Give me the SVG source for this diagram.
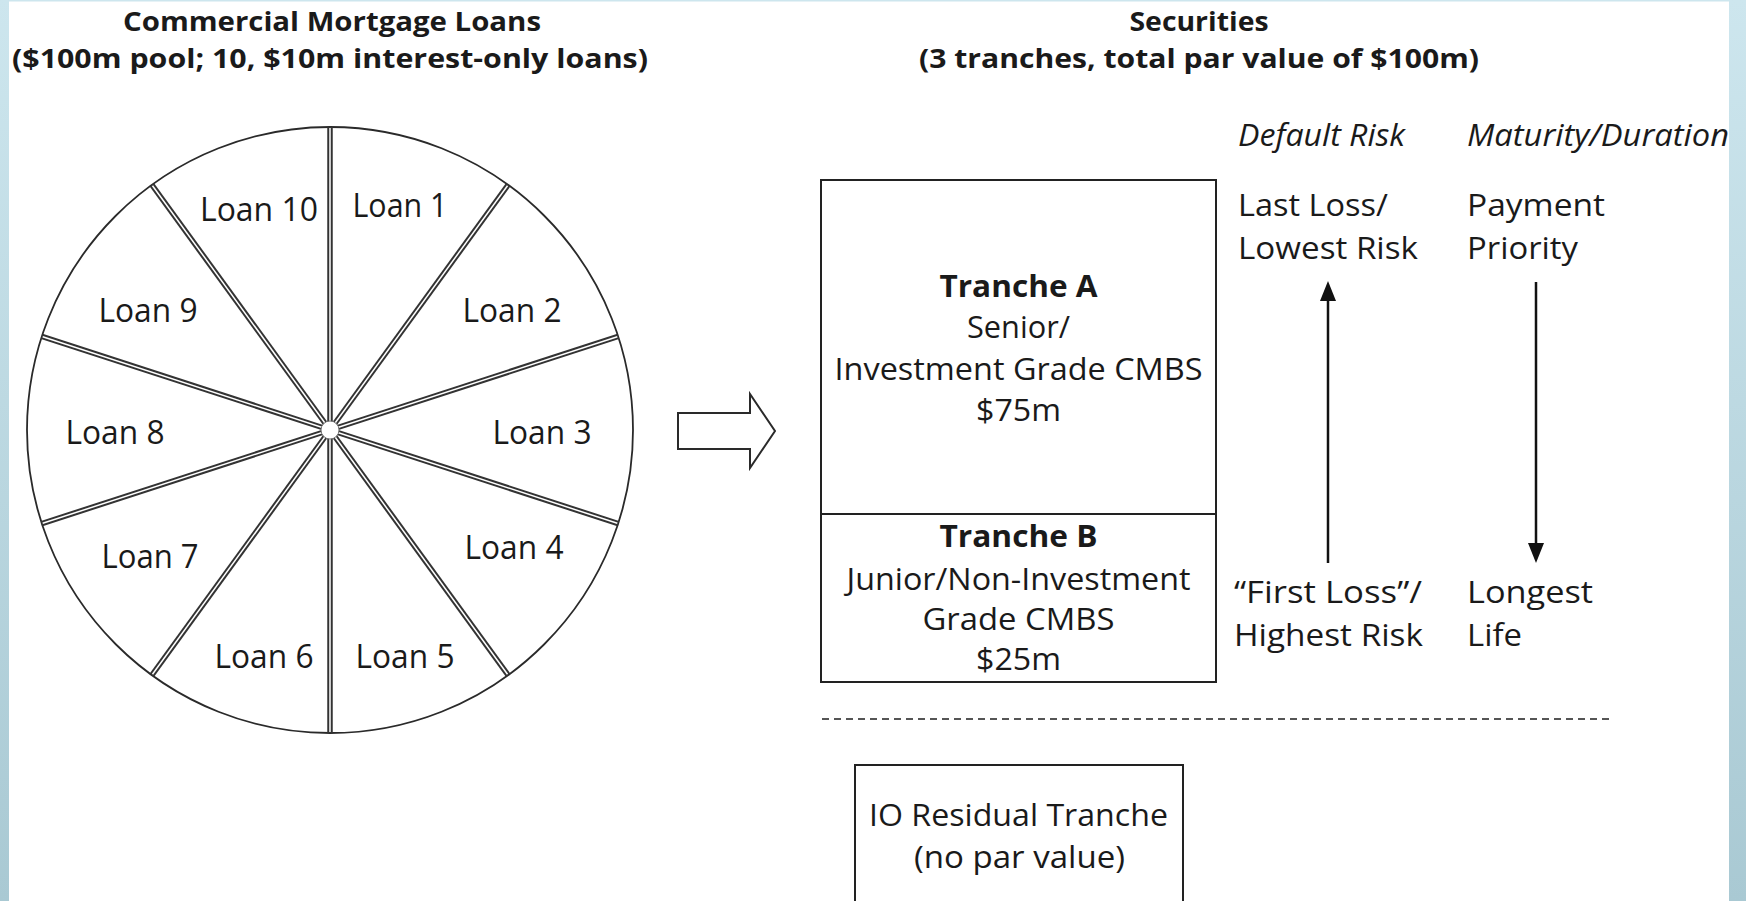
<svg xmlns="http://www.w3.org/2000/svg" width="1746" height="901" viewBox="0 0 1746 901">
<defs>
<linearGradient id="edge" x1="0" y1="0" x2="0" y2="1">
<stop offset="0" stop-color="#cde6ee"/>
<stop offset="1" stop-color="#a9c9d3"/>
</linearGradient>
<marker id="ah" viewBox="0 0 20 16" refX="10" refY="8" markerWidth="20" markerHeight="16" markerUnits="userSpaceOnUse" orient="auto">
<path d="M0,0 L20,8 L0,16 Z" fill="#111"/>
</marker>
</defs>
<style>
text{font-family:"Open Sans","Noto Sans","Liberation Sans",sans-serif;fill:#1a1a1a;text-anchor:middle}
.t{font-size:27px;font-weight:bold}
.b{font-size:31px}
.bb{font-size:31px;font-weight:bold}
.l{font-size:32px}
.i{font-size:31px;font-style:italic;text-anchor:start}
.s{font-size:31px;text-anchor:start}
.box{fill:#fff;stroke:#222;stroke-width:2}
.sp{stroke:#333;stroke-width:5.5}
.spi{stroke:#fff;stroke-width:1.5}
.conn{stroke:#111;stroke-width:2.5;fill:none}
</style>
<rect x="0" y="0" width="1746" height="901" fill="#fff"/>

<g id="title-loans">
<text class="t" x="332" y="31" textLength="418" lengthAdjust="spacingAndGlyphs">Commercial Mortgage Loans</text>
<text class="t" x="330" y="68" textLength="636" lengthAdjust="spacingAndGlyphs">($100m pool; 10, $10m interest-only loans)</text>
</g>
<g id="title-securities">
<text class="t" x="1199" y="31" textLength="139" lengthAdjust="spacingAndGlyphs">Securities</text>
<text class="t" x="1199" y="68" textLength="560" lengthAdjust="spacingAndGlyphs">(3 tranches, total par value of $100m)</text>
</g>

<g id="loan-pool">
<circle cx="330" cy="430" r="303" fill="#fff" stroke="#2a2a2a" stroke-width="1.8"/>
<g class="sp">
<line x1="330" y1="430" x2="330" y2="127"/>
<line x1="330" y1="430" x2="508.1" y2="184.9"/>
<line x1="330" y1="430" x2="618.2" y2="336.4"/>
<line x1="330" y1="430" x2="618.2" y2="523.6"/>
<line x1="330" y1="430" x2="508.1" y2="675.1"/>
<line x1="330" y1="430" x2="330" y2="733"/>
<line x1="330" y1="430" x2="151.9" y2="675.1"/>
<line x1="330" y1="430" x2="41.8" y2="523.6"/>
<line x1="330" y1="430" x2="41.8" y2="336.4"/>
<line x1="330" y1="430" x2="151.9" y2="184.9"/>
</g>
<g class="spi">
<line x1="330" y1="430" x2="330" y2="128"/>
<line x1="330" y1="430" x2="507.5" y2="185.7"/>
<line x1="330" y1="430" x2="617.3" y2="336.7"/>
<line x1="330" y1="430" x2="617.3" y2="523.3"/>
<line x1="330" y1="430" x2="507.5" y2="674.3"/>
<line x1="330" y1="430" x2="330" y2="732"/>
<line x1="330" y1="430" x2="152.5" y2="674.3"/>
<line x1="330" y1="430" x2="42.7" y2="523.3"/>
<line x1="330" y1="430" x2="42.7" y2="336.7"/>
<line x1="330" y1="430" x2="152.5" y2="185.7"/>
</g>
<circle cx="330" cy="430" r="9" fill="#fff" stroke="#777" stroke-width="1"/>
<g id="loan-1"><text class="l" x="400" y="217" textLength="95" lengthAdjust="spacingAndGlyphs">Loan 1</text></g>
<g id="loan-2"><text class="l" x="512" y="322" textLength="99" lengthAdjust="spacingAndGlyphs">Loan 2</text></g>
<g id="loan-3"><text class="l" x="542" y="444" textLength="99" lengthAdjust="spacingAndGlyphs">Loan 3</text></g>
<g id="loan-4"><text class="l" x="514" y="559" textLength="99" lengthAdjust="spacingAndGlyphs">Loan 4</text></g>
<g id="loan-5"><text class="l" x="405" y="668" textLength="99" lengthAdjust="spacingAndGlyphs">Loan 5</text></g>
<g id="loan-6"><text class="l" x="264" y="668" textLength="99" lengthAdjust="spacingAndGlyphs">Loan 6</text></g>
<g id="loan-7"><text class="l" x="150" y="568" textLength="97" lengthAdjust="spacingAndGlyphs">Loan 7</text></g>
<g id="loan-8"><text class="l" x="115" y="444" textLength="99" lengthAdjust="spacingAndGlyphs">Loan 8</text></g>
<g id="loan-9"><text class="l" x="148" y="322" textLength="99" lengthAdjust="spacingAndGlyphs">Loan 9</text></g>
<g id="loan-10"><text class="l" x="259" y="221" textLength="118" lengthAdjust="spacingAndGlyphs">Loan 10</text></g>
</g>

<g id="block-arrow">
<path d="M678,413 L750,413 L750,394 L775,431 L750,468 L750,449 L678,449 Z" fill="#fff" stroke="#2a2a2a" stroke-width="2"/>
</g>

<g id="tranche-a">
<rect class="box" x="821" y="180" width="395" height="334"/>
<text class="bb" x="1018.5" y="297" textLength="158" lengthAdjust="spacingAndGlyphs">Tranche A</text>
<text class="b" x="1018.5" y="338" textLength="103" lengthAdjust="spacingAndGlyphs">Senior/</text>
<text class="b" x="1018.5" y="380" textLength="368" lengthAdjust="spacingAndGlyphs">Investment Grade CMBS</text>
<text class="b" x="1018.5" y="421" textLength="85" lengthAdjust="spacingAndGlyphs">$75m</text>
</g>
<g id="tranche-b">
<rect class="box" x="821" y="514" width="395" height="168"/>
<text class="bb" x="1018.5" y="547" textLength="158" lengthAdjust="spacingAndGlyphs">Tranche B</text>
<text class="b" x="1018.5" y="590" textLength="344" lengthAdjust="spacingAndGlyphs">Junior/Non-Investment</text>
<text class="b" x="1018.5" y="630" textLength="192" lengthAdjust="spacingAndGlyphs">Grade CMBS</text>
<text class="b" x="1018.5" y="670" textLength="85" lengthAdjust="spacingAndGlyphs">$25m</text>
</g>

<g id="separator">
<line x1="822" y1="719" x2="1613" y2="719" stroke="#555" stroke-width="2" stroke-dasharray="7 5"/>
</g>

<g id="io-tranche">
<rect class="box" x="855" y="765" width="328" height="160"/>
<text class="b" x="1018.5" y="826" textLength="299" lengthAdjust="spacingAndGlyphs">IO Residual Tranche</text>
<text class="b" x="1019.5" y="868" textLength="211" lengthAdjust="spacingAndGlyphs">(no par value)</text>
</g>

<g id="default-risk">
<text class="i" x="1238" y="146" textLength="167" lengthAdjust="spacingAndGlyphs">Default Risk</text>
<text class="s" x="1238" y="216" textLength="150" lengthAdjust="spacingAndGlyphs">Last Loss/</text>
<text class="s" x="1238" y="259" textLength="180" lengthAdjust="spacingAndGlyphs">Lowest Risk</text>
<text class="s" x="1234" y="603" textLength="188" lengthAdjust="spacingAndGlyphs">“First Loss”/</text>
<text class="s" x="1234" y="646" textLength="189" lengthAdjust="spacingAndGlyphs">Highest Risk</text>
</g>
<g id="maturity">
<text class="i" x="1467" y="146" textLength="262" lengthAdjust="spacingAndGlyphs">Maturity/Duration</text>
<text class="s" x="1467" y="216" textLength="138" lengthAdjust="spacingAndGlyphs">Payment</text>
<text class="s" x="1467" y="259" textLength="111" lengthAdjust="spacingAndGlyphs">Priority</text>
<text class="s" x="1467" y="603" textLength="126" lengthAdjust="spacingAndGlyphs">Longest</text>
<text class="s" x="1467" y="646" textLength="55" lengthAdjust="spacingAndGlyphs">Life</text>
</g>

<g id="connectors">
<line class="conn" x1="1328" y1="563" x2="1328" y2="291" marker-end="url(#ah)"/>
<line class="conn" x1="1536" y1="282" x2="1536" y2="553" marker-end="url(#ah)"/>
</g>

<g id="frame">
<rect x="0" y="0" width="1746" height="1.5" fill="#cde6ee"/>
<rect x="0" y="0" width="9" height="901" fill="url(#edge)"/>
<rect x="1729" y="0" width="17" height="901" fill="url(#edge)"/>
</g>
</svg>
